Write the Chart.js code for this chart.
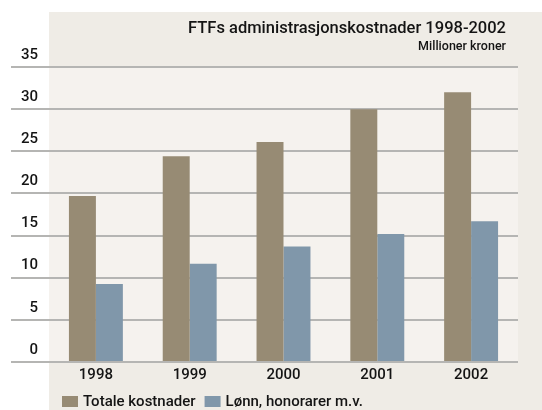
<!DOCTYPE html>
<html>
<head>
<meta charset="utf-8">
<script src="https://cdn.jsdelivr.net/npm/chart.js@4.4.1/dist/chart.umd.min.js"></script>
<style>
  html, body { margin: 0; padding: 0; background: #ffffff; }
  #wrap { width: 542px; height: 410px; }
</style>
</head>
<body>
<div id="wrap"><canvas id="chart"></canvas></div>
<script>
var years = ['1998', '1999', '2000', '2001', '2002'];
var totaleKostnader = [19.7, 24.4, 26.1, 30.0, 32.0];
var lonnHonorarer = [9.25, 11.65, 13.7, 15.2, 16.7];
var seriesNames = ['Totale kostnader', 'Lønn, honorarer m.v.'];
var titleText = 'FTFs administrasjonskostnader 1998-2002';
var subtitleText = 'Millioner kroner';

var fontFamily = 'Roboto, "DejaVu Sans", sans-serif';

// backgrounds, title and legend
var decor = {
    id: 'decor',
    beforeDraw: function (chart) {
        var ctx = chart.ctx;
        var a = chart.chartArea;
        ctx.save();
        ctx.fillStyle = '#efece6';
        ctx.fillRect(a.left, 12, chart.width - a.left, chart.height - 12);
        ctx.fillStyle = '#f5f2ee';
        ctx.fillRect(a.left, a.top, a.right - a.left, a.bottom - a.top);
        ctx.restore();
    },
    afterDraw: function (chart) {
        var ctx = chart.ctx;
        var a = chart.chartArea;
        ctx.save();
        ctx.fillStyle = '#141414';
        ctx.textAlign = 'right';
        ctx.textBaseline = 'alphabetic';
        ctx.font = '500 16.5px ' + fontFamily;
        ctx.fillText(titleText, a.right - 12, 33);
        ctx.font = '500 12.5px ' + fontFamily;
        ctx.fillText(subtitleText, a.right - 12, 50);

        // legend
        ctx.textAlign = 'left';
        ctx.font = '500 15px ' + fontFamily;
        var x = 62;
        chart.data.datasets.forEach(function (ds) {
            ctx.fillStyle = ds.backgroundColor;
            ctx.fillRect(x, 396, 16, 11);
            ctx.fillStyle = '#141414';
            ctx.fillText(ds.label, x + 21, 406);
            x += 21 + ctx.measureText(ds.label).width + 9;
        });
        ctx.restore();
    }
};

new Chart(document.getElementById('chart'), {
    type: 'bar',
    data: {
        labels: years,
        datasets: [
            {
                label: seriesNames[0],
                data: totaleKostnader,
                backgroundColor: '#978b74'
            },
            {
                label: seriesNames[1],
                data: lonnHonorarer,
                backgroundColor: '#8097aa'
            }
        ]
    },
    options: {
        responsive: true,
        maintainAspectRatio: false,
        animation: false,
        layout: {
            padding: { top: 67, left: 11, right: 24, bottom: 0 }
        },
        datasets: {
            bar: {
                categoryPercentage: 0.575,
                barPercentage: 1
            }
        },
        plugins: {
            legend: { display: false },
            title: { display: false },
            tooltip: { enabled: false }
        },
        scales: {
            x: {
                grid: { display: false, drawTicks: false },
                border: { display: false },
                ticks: {
                    color: '#141414',
                    font: { family: fontFamily, size: 15, weight: '500' },
                    padding: 4
                },
                afterFit: function (scale) { scale.height = 48; }
            },
            y: {
                min: 0,
                max: 35,
                border: { display: false },
                grid: {
                    color: '#b5b5b3',
                    lineWidth: 2,
                    drawTicks: true,
                    tickLength: 38
                },
                ticks: {
                    stepSize: 5,
                    color: '#141414',
                    font: { family: fontFamily, size: 15, weight: '500' },
                    padding: -27,
                    labelOffset: -12
                },
                afterFit: function (scale) { scale.width = 38; }
            }
        }
    },
    plugins: [decor]
});
</script>
</body>
</html>
